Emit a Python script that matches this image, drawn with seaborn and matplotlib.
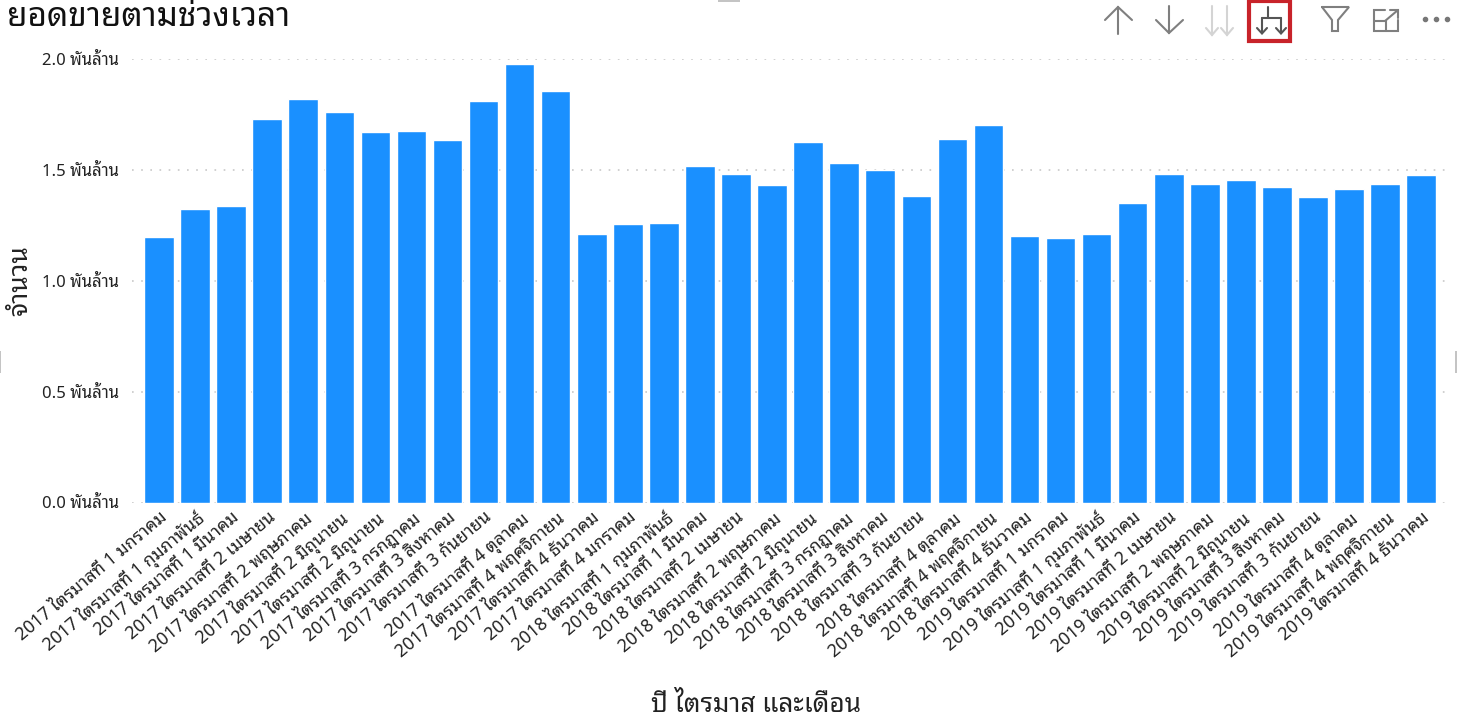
import numpy as np
import pandas as pd
import matplotlib
matplotlib.use("Agg")
import matplotlib.pyplot as plt
from matplotlib.transforms import ScaledTranslation
import seaborn as sns

# labels as they stand in the picture, the repeated month and the 2017/2018 shift included
periods = [
    "2017 ไตรมาสที่ 1 มกราคม", "2017 ไตรมาสที่ 1 กุมภาพันธ์", "2017 ไตรมาสที่ 1 มีนาคม",
    "2017 ไตรมาสที่ 2 เมษายน", "2017 ไตรมาสที่ 2 พฤษภาคม", "2017 ไตรมาสที่ 2 มิถุนายน",
    "2017 ไตรมาสที่ 2 มิถุนายน", "2017 ไตรมาสที่ 3 กรกฎาคม", "2017 ไตรมาสที่ 3 สิงหาคม",
    "2017 ไตรมาสที่ 3 กันยายน", "2017 ไตรมาสที่ 4 ตุลาคม", "2017 ไตรมาสที่ 4 พฤศจิกายน",
    "2017 ไตรมาสที่ 4 ธันวาคม", "2017 ไตรมาสที่ 4 มกราคม", "2018 ไตรมาสที่ 1 กุมภาพันธ์",
    "2018 ไตรมาสที่ 1 มีนาคม", "2018 ไตรมาสที่ 2 เมษายน", "2018 ไตรมาสที่ 2 พฤษภาคม",
    "2018 ไตรมาสที่ 2 มิถุนายน", "2018 ไตรมาสที่ 3 กรกฎาคม", "2018 ไตรมาสที่ 3 สิงหาคม",
    "2018 ไตรมาสที่ 3 กันยายน", "2018 ไตรมาสที่ 4 ตุลาคม", "2018 ไตรมาสที่ 4 พฤศจิกายน",
    "2018 ไตรมาสที่ 4 ธันวาคม", "2019 ไตรมาสที่ 1 มกราคม", "2019 ไตรมาสที่ 1 กุมภาพันธ์",
    "2019 ไตรมาสที่ 1 มีนาคม", "2019 ไตรมาสที่ 2 เมษายน", "2019 ไตรมาสที่ 2 พฤษภาคม",
    "2019 ไตรมาสที่ 2 มิถุนายน", "2019 ไตรมาสที่ 3 สิงหาคม", "2019 ไตรมาสที่ 3 กันยายน",
    "2019 ไตรมาสที่ 4 ตุลาคม", "2019 ไตรมาสที่ 4 พฤศจิกายน", "2019 ไตรมาสที่ 4 ธันวาคม",
]
sales = [
    1.196, 1.323, 1.336, 1.729, 1.820, 1.760, 1.670, 1.675, 1.634, 1.810, 1.977, 1.855,
    1.209, 1.254, 1.259, 1.516, 1.483, 1.431, 1.624, 1.530, 1.499, 1.381, 1.641, 1.704,
    1.204, 1.191, 1.209, 1.350, 1.480, 1.437, 1.454, 1.424, 1.377, 1.413, 1.438, 1.476,
]
y_ticks = [0.0, 0.5, 1.0, 1.5, 2.0]
y_tick_labels = ["0.0 พันล้าน", "0.5 พันล้าน", "1.0 พันล้าน", "1.5 พันล้าน", "2.0 พันล้าน"]

W, H = 1458, 720

sns.set_theme(style="white")
plt.rcParams['font.family'] = ['Noto Sans Thai Looped', 'DejaVu Sans']

fig = plt.figure(figsize=(W / 100, H / 100), dpi=100)
# axes box in pixels of the reference: x 131.5-1447.5, y 59-502.5
ax = fig.add_axes([131.5 / W, 1 - 502.5 / H, 1316 / W, 443.5 / H])

# a running position, because two labels are the same text
df = pd.DataFrame({"pos": range(len(periods)), "sales": sales})
sns.barplot(data=df, x="pos", y="sales", color="#1a90ff", saturation=1, width=0.82, ax=ax, zorder=3)

ax.set_xlim(-0.763, 35.73)
ax.set_ylim(0, 2.0)
ax.set_yticks(y_ticks)
ax.set_yticklabels(y_tick_labels, fontsize=12, color="#222222")
ax.set_xticks(range(len(periods)))
ax.set_xticklabels(periods, rotation=40, ha="right", va="top", rotation_mode="anchor",
                   fontsize=12.7, color="#222222")
shift = ScaledTranslation(-11 / 100, 4 / 100, fig.dpi_scale_trans)
for lab in ax.get_xticklabels():
    lab.set_transform(lab.get_transform() + shift)
ax.tick_params(axis="both", length=0)
ax.tick_params(axis="x", pad=4)
ax.tick_params(axis="y", pad=9)
ax.yaxis.grid(True, color="#c8c8c8", linewidth=1.2, linestyle=(0, (1, 4.5)))
ax.set_axisbelow(True)
ax.xaxis.grid(False)
sns.despine(ax=ax, left=True, bottom=True)
ax.set_xlabel("")
ax.set_ylabel("")

fig.text(7 / W, 1 - 18 / H, "ยอดขายตามช่วงเวลา", fontsize=24, color="#111111", va="center", ha="left")
fig.text(756 / W, 1 - 705 / H, "ปี ไตรมาส และเดือน", fontsize=18.8, color="#222222", va="center", ha="center")
fig.text(20 / W, 1 - 281 / H, "จำนวน", fontsize=19, color="#222222", va="center", ha="center", rotation=90)

# visual header icons, drawn in reference pixel coordinates
icons = fig.add_axes([0, 0, 1, 1], facecolor="none")
icons.set_xlim(0, W)
icons.set_ylim(H, 0)
icons.axis("off")

def stroke(xs, ys, color="#7f7f7f", lw=1.5):
    icons.plot(xs, ys, color=color, linewidth=lw, solid_capstyle="round", solid_joinstyle="miter")

# up arrow
stroke([1118, 1118], [7, 34])
stroke([1105, 1118, 1132], [20, 7, 20])
# down arrow
stroke([1169, 1169], [6, 33])
stroke([1156, 1169, 1183], [20, 33, 20])
# double down arrow, faded
for cx in (1212, 1227):
    stroke([cx, cx], [6, 35], color="#d4d4d4")
    stroke([cx - 6, cx, cx + 6], [28, 35, 28], color="#d4d4d4")
# expand-next-level icon with red box
icons.add_patch(plt.Rectangle((1249.5, 1), 41, 40, fill=False, edgecolor="#c8232a", linewidth=3))
stroke([1268, 1268], [7, 18], color="#555555")
stroke([1262, 1281], [18, 18], color="#555555")
for cx in (1262, 1281):
    stroke([cx, cx], [18, 33], color="#555555")
    stroke([cx - 5, cx, cx + 5], [28, 33.5, 28], color="#555555")
# funnel
stroke([1322, 1349, 1338, 1338, 1332, 1332, 1322], [7, 7, 20, 31, 31, 20, 7])
# focus mode
stroke([1385, 1374, 1374, 1398, 1398], [10, 10, 31, 31, 20])
stroke([1374, 1386, 1386], [20.5, 20.5, 31])
stroke([1385, 1398], [21, 10])
stroke([1390, 1398, 1398], [10, 10, 18])
# more dots
icons.scatter([1425, 1436, 1447], [18.5, 18.5, 18.5], s=9, color="#777777")

# visual resize handles on the frame edges
for x0, y0, w, h in [(718, 0, 22, 1.5), (0, 351, 1.2, 22), (1455.3, 351, 1.8, 22)]:
    icons.add_patch(plt.Rectangle((x0, y0), w, h, facecolor="#c4c4c4", edgecolor="none"))

fig.savefig("out.png", dpi=100)
